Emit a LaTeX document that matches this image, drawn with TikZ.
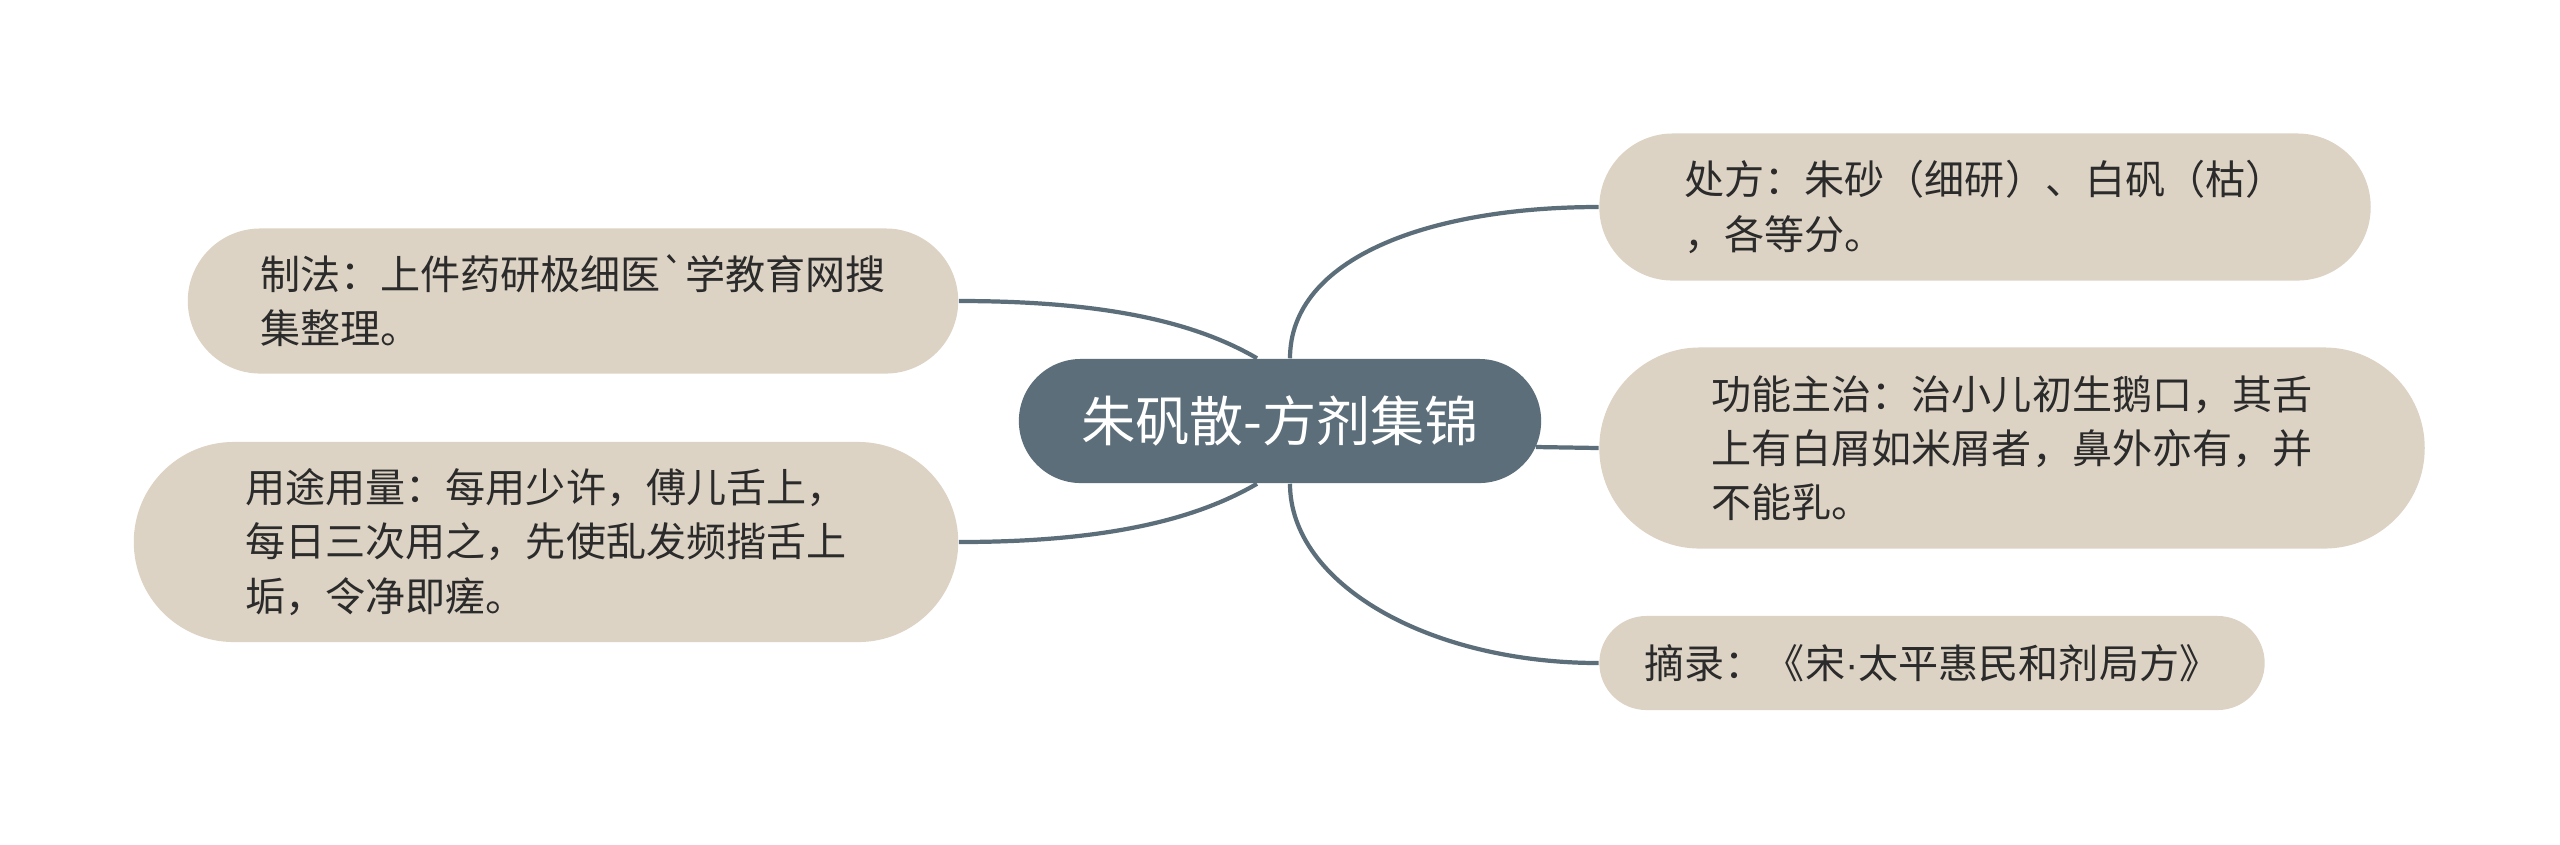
\documentclass[tikz,border=0pt]{standalone}
\usepackage{fontspec}
\setmainfont{Noto Sans CJK SC}[Ligatures=TeXOff]
\newfontfamily\latinfont{Liberation Sans}
\usetikzlibrary{shapes.misc,calc}
\definecolor{slate}{HTML}{5C6E7A}
\definecolor{sand}{HTML}{DDD3C4}
\definecolor{ink}{HTML}{2B2B2B}
\begin{document}
\begin{tikzpicture}[
  x=0.01cm, y=-0.01cm,
  root/.style={
    rounded rectangle, fill=slate, text=white,
    minimum width=5.22cm, minimum height=1.24cm,
    font=\fontsize{15.4pt}{18pt}\selectfont, inner sep=0pt
  },
  leaf/.style={
    rounded rectangle, fill=sand, text=ink,
    font=\fontsize{11.4pt}{15.4pt}\selectfont, align=left, inner sep=0pt
  },
  link/.style={draw=slate, line width=1.2pt},
]

\fill[white] (0,0) rectangle (2560,844);
\useasboundingbox (0,0) rectangle (2560,844);

\node[root] (main) at (1280,421) {朱矾散-方剂集锦};

\node[leaf, minimum width=7.71cm, minimum height=1.47cm] (chufang)  at (1985,207)
  {处方：朱砂（细研）、白矾（枯）\\，各等分。};
\node[leaf, minimum width=8.25cm, minimum height=2.01cm] (gongneng) at (2012,448)
  {功能主治：治小儿初生鹅口，其舌\\上有白屑如米屑者，鼻外亦有，并\\不能乳。};
\node[leaf, minimum width=6.65cm, minimum height=0.94cm] (zhailu)   at (1932,663)
  {摘录：《宋{\latinfont ·}太平惠民和剂局方》};
\node[leaf, minimum width=7.70cm, minimum height=1.45cm] (zhifa)    at (573,301)
  {制法：上件药研极细医`学教育网搜\\集整理。};
\node[leaf, minimum width=8.24cm, minimum height=2.00cm] (yongtu)   at (546,542)
  {用途用量：每用少许，傅儿舌上，\\每日三次用之，先使乱发频揩舌上\\垢，令净即瘥。};

\draw[link] ($(main.north)+(10,0)$) .. controls +(0,-100) and +(-170,0) .. (chufang.west);
\draw[link] ($(main.east)+(-6,26)$) -- (gongneng.west);
\draw[link] ($(main.south)+(10,0)$) .. controls +(0,100) and +(-170,0) .. (zhailu.west);
\draw[link] (zhifa.east) .. controls +(150,0) and +(-60,-35) .. ($(main.north)+(-23,0)$);
\draw[link] (yongtu.east) .. controls +(150,0) and +(-60,35) .. ($(main.south)+(-23,0)$);

\end{tikzpicture}
\end{document}
